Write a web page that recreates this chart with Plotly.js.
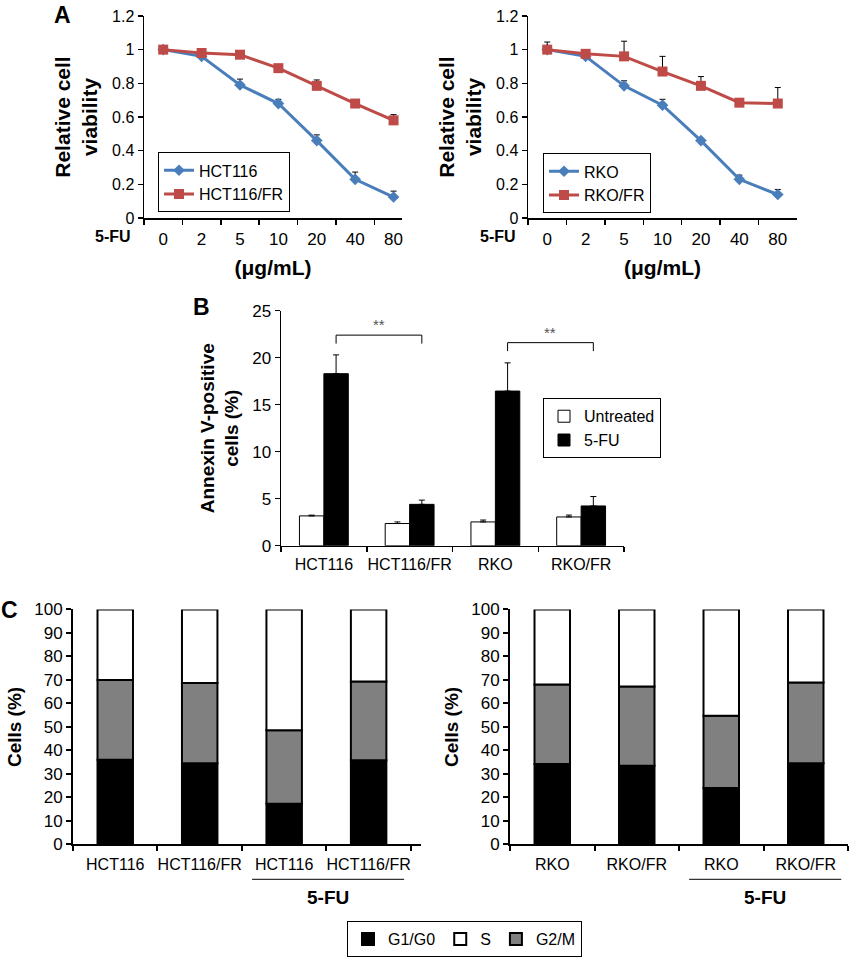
<!DOCTYPE html>
<html>
<head>
<meta charset="utf-8">
<script src="https://cdn.plot.ly/plotly-3.0.1.min.js"></script>
<style>html,body{margin:0;padding:0;background:#fff;}#chart{width:850px;height:957px;}</style>
</head>
<body>
<div id="chart"></div>
<script>
// ---------- Panel A data ----------
const concLabels = ['0', '2', '5', '10', '20', '40', '80'];
const hct116 = [1.0, 0.96, 0.79, 0.68, 0.46, 0.23, 0.125];
const hct116Err = [0, 0, 0.035, 0.025, 0.034, 0.043, 0.035];
const hct116fr = [1.0, 0.98, 0.97, 0.89, 0.785, 0.68, 0.58];
const hct116frErr = [0, 0, 0, 0.008, 0.035, 0.008, 0.034];
const rko = [1.0, 0.96, 0.785, 0.67, 0.46, 0.23, 0.14];
const rkoErr = [0, 0, 0.03, 0.035, 0.012, 0.025, 0.03];
const rkofr = [1.0, 0.975, 0.96, 0.87, 0.785, 0.685, 0.68];
const rkofrErr = [0.045, 0, 0.09, 0.09, 0.055, 0, 0.095];

// ---------- Panel B data ----------
const cellLines = ['HCT116', 'HCT116/FR', 'RKO', 'RKO/FR'];
const untreated = [3.17, 2.36, 2.53, 3.06];
const untreatedErr = [0.08, 0.17, 0.2, 0.2];
const fuTreated = [18.3, 4.4, 16.45, 4.23];
const fuTreatedErr = [2.0, 0.45, 3.0, 1.0];
const sigPairs = [[0, 1], [2, 3]];
const sigHeights = [22.4, 21.6];
const sigLabel = '**';

// ---------- Panel C data ----------
const cLabelsLeft = ['HCT116', 'HCT116/FR', 'HCT116', 'HCT116/FR'];
const cLabelsRight = ['RKO', 'RKO/FR', 'RKO', 'RKO/FR'];
const g1Left = [36, 34.5, 17.3, 35.8];
const g2mLeft = [34, 34.2, 31.3, 33.5];
const sLeft = [30, 31.3, 51.4, 30.7];
const g1Right = [34.2, 33.5, 24.0, 34.6];
const g2mRight = [33.9, 33.7, 30.8, 34.3];
const sRight = [31.9, 32.8, 45.2, 31.1];

const FONT = 'Liberation Sans, Arial, sans-serif';
const BLUE = '#4A7EBB';
const RED = '#BE4B48';
const GRAY = '#808080';
const zeros = a => a.map(() => 0);
const idx = a => a.map((_, i) => i);
const W = 850, H = 957;
const px = v => v / W;
const py = v => 1 - v / H;

const traces = [];

function lineTrace(y, err, name, color, symbol, size, xa, ya, leg) {
  return {
    type: 'scatter', mode: 'lines+markers', x: concLabels, y: y, name: name,
    line: {color: color, width: 3},
    marker: {symbol: symbol, size: size, color: color},
    error_y: {type: 'data', symmetric: false, array: err, arrayminus: zeros(err),
              color: '#000', thickness: 1, width: 3},
    xaxis: xa, yaxis: ya, legend: leg
  };
}
traces.push(lineTrace(hct116, hct116Err, 'HCT116', BLUE, 'diamond', 9, 'x', 'y', 'legend'));
traces.push(lineTrace(hct116fr, hct116frErr, 'HCT116/FR', RED, 'square', 10, 'x', 'y', 'legend'));
traces.push(lineTrace(rko, rkoErr, 'RKO', BLUE, 'diamond', 9, 'x2', 'y2', 'legend2'));
traces.push(lineTrace(rkofr, rkofrErr, 'RKO/FR', RED, 'square', 10, 'x2', 'y2', 'legend2'));

const bw = 0.285;
traces.push({
  type: 'bar', x: cellLines, y: untreated, name: 'Untreated', width: bw, offset: -bw,
  marker: {color: '#fff', line: {color: '#000', width: 1}},
  error_y: {type: 'data', symmetric: false, array: untreatedErr, arrayminus: zeros(untreatedErr),
            color: '#000', thickness: 1, width: 3},
  xaxis: 'x3', yaxis: 'y3', legend: 'legend3'
});
traces.push({
  type: 'bar', x: cellLines, y: fuTreated, name: '5-FU', width: bw, offset: 0,
  marker: {color: '#000', line: {color: '#000', width: 1}},
  error_y: {type: 'data', symmetric: false, array: fuTreatedErr, arrayminus: zeros(fuTreatedErr),
            color: '#000', thickness: 1, width: 3},
  xaxis: 'x3', yaxis: 'y3', legend: 'legend3'
});

const cw = 0.42;
function stackTraces(g1, g2, s, xa, ya, show) {
  const xs = idx(g1);
  const base2 = g1.slice();
  const base3 = g1.map((v, i) => v + g2[i]);
  const common = {type: 'bar', x: xs, width: cw, xaxis: xa, yaxis: ya, legend: 'legend4', showlegend: show};
  return [
    Object.assign({}, common, {y: g1, name: 'G1/G0', legendrank: 1,
      marker: {color: '#000', line: {color: '#000', width: 2}}}),
    Object.assign({}, common, {y: g2, base: base2, name: 'G2/M', legendrank: 3,
      marker: {color: GRAY, line: {color: '#000', width: 2}}}),
    Object.assign({}, common, {y: s, base: base3, name: 'S', legendrank: 2,
      marker: {color: '#fff', line: {color: '#000', width: 2}}})
  ];
}
traces.push(...stackTraces(g1Left, g2mLeft, sLeft, 'x4', 'y4', true));
traces.push(...stackTraces(g1Right, g2mRight, sRight, 'x5', 'y5', false));

const titleFont = {family: FONT, size: 21, color: '#000', weight: 'bold'};
const f = s => ({family: FONT, size: s, color: '#000'});

function catX(domain, range, title, anchor, tsize, lblStand) {
  const ax = {domain: domain, range: range, type: 'category', anchor: anchor,
    showline: true, linecolor: '#000', linewidth: 1.5, ticks: 'outside', tickson: 'boundaries',
    ticklen: 5, tickwidth: 1.5, tickcolor: '#000', showgrid: false, zeroline: false,
    tickangle: 0, ticklabelstandoff: lblStand, tickfont: f(tsize), fixedrange: true};
  if (title) ax.title = {text: title, font: titleFont, standoff: 12};
  return ax;
}
function valY(domain, range, dtick, title, anchor, lw, tsize, titleSize) {
  return {domain: domain, range: range, dtick: dtick, anchor: anchor,
    showline: true, linecolor: '#000', linewidth: lw, ticks: 'outside',
    ticklen: 5, tickwidth: lw, tickcolor: '#000', showgrid: false, zeroline: false,
    tickfont: f(tsize), fixedrange: true,
    title: {text: title, font: Object.assign({}, titleFont, {size: titleSize}), standoff: 8}};
}
function linX(domain, range, labels, anchor) {
  return {domain: domain, range: range, anchor: anchor,
    showline: true, linecolor: '#000', linewidth: 2, showgrid: false, zeroline: false,
    tickmode: 'array', tickvals: idx(labels), ticktext: labels, ticks: '', ticklen: 0,
    tickangle: 0, ticklabelstandoff: 4, tickfont: f(16), fixedrange: true,
    minor: {tickmode: 'array', tickvals: [-0.5, 0.5, 1.5, 2.5, 3.5], ticks: 'outside',
            ticklen: 5, tickwidth: 2, tickcolor: '#000', showgrid: false}};
}

const aY = [py(219), py(16)];
const bY = [py(548), py(312)];
const cY = [py(848), py(612)];

function boxLegend(x, y, extra) {
  return Object.assign({x: px(x), y: py(y), xanchor: 'left', yanchor: 'top', bgcolor: '#fff',
    bordercolor: '#000', borderwidth: 1, font: f(16)}, extra || {});
}

const layout = {
  width: W, height: H, margin: {l: 0, r: 0, t: 0, b: 0},
  paper_bgcolor: '#fff', plot_bgcolor: 'rgba(0,0,0,0)',
  font: {family: FONT, color: '#000'},
  barmode: 'overlay',
  xaxis: catX([px(144), px(402)], [-0.5, 6.22], '(μg/mL)', 'y', 17, 5),
  yaxis: valY(aY, [0, 1.2], 0.2, 'Relative cell<br>viability', 'x', 1.5, 16, 21),
  xaxis2: catX([px(528), px(797)], [-0.5, 6.5], '(μg/mL)', 'y2', 17, 5),
  yaxis2: valY(aY, [0, 1.2], 0.2, 'Relative cell<br>viability', 'x2', 1.5, 16, 21),
  xaxis3: catX([px(281), px(624)], [-0.5, 3.5], null, 'y3', 16, 4),
  yaxis3: valY(bY, [0, 25], 5, 'Annexin V-positive<br>cells (%)', 'x3', 1.5, 17, 19),
  xaxis4: linX([px(73), px(421)], [-0.5, 3.62], cLabelsLeft, 'y4'),
  yaxis4: valY(cY, [0, 100], 10, 'Cells (%)', 'x4', 2, 17, 19),
  xaxis5: linX([px(510), px(848)], [-0.5, 3.5], cLabelsRight, 'y5'),
  yaxis5: valY(cY, [0, 100], 10, 'Cells (%)', 'x5', 2, 17, 19),
  legend: boxLegend(158, 153),
  legend2: boxLegend(543, 154),
  legend3: boxLegend(543, 400, {itemwidth: 30}),
  legend4: boxLegend(347, 925, {itemwidth: 30, orientation: 'h'}),
  shapes: [],
  annotations: []
};

// panel letters
[['A', 62, 15], ['B', 201, 308], ['C', 9, 613]].forEach(([t, x, y]) => {
  layout.annotations.push({text: '<b>' + t + '</b>', xref: 'paper', yref: 'paper', x: px(x), y: py(y),
    xanchor: 'center', yanchor: 'middle', showarrow: false, font: f(23)});
});
// 5-FU labels in panel A
[133, 518].forEach(x => {
  layout.annotations.push({text: '<b>5-FU</b>', xref: 'paper', yref: 'paper', x: px(x), y: py(237.5),
    xanchor: 'right', yanchor: 'middle', showarrow: false, font: f(16)});
});
// significance brackets in panel B
sigPairs.forEach((pair, k) => {
  const xa = pair[0] + bw / 2, xb = pair[1] + bw / 2, top = sigHeights[k], drop = 0.9;
  layout.shapes.push({type: 'path', xref: 'x3', yref: 'y3',
    path: `M ${xa},${top - drop} L ${xa},${top} L ${xb},${top} L ${xb},${top - drop}`,
    line: {color: '#000', width: 1}});
  layout.annotations.push({text: sigLabel, xref: 'x3', yref: 'y3', x: (xa + xb) / 2, y: top,
    xanchor: 'center', yanchor: 'bottom', showarrow: false,
    font: {family: FONT, size: 15, color: '#555'}});
});
// 5-FU group labels in panel C
['x4', 'x5'].forEach(xa => {
  layout.shapes.push({type: 'line', xref: xa, yref: 'paper', x0: 1.62, x1: 3.42, y0: py(883), y1: py(883),
    line: {color: '#000', width: 1}});
  layout.annotations.push({text: '<b>5-FU</b>', xref: xa, yref: 'paper', x: 2.52, y: py(901),
    xanchor: 'center', yanchor: 'middle', showarrow: false, font: f(19)});
});

Plotly.newPlot('chart', traces, layout, {staticPlot: true, displayModeBar: false});
</script>
</body>
</html>
